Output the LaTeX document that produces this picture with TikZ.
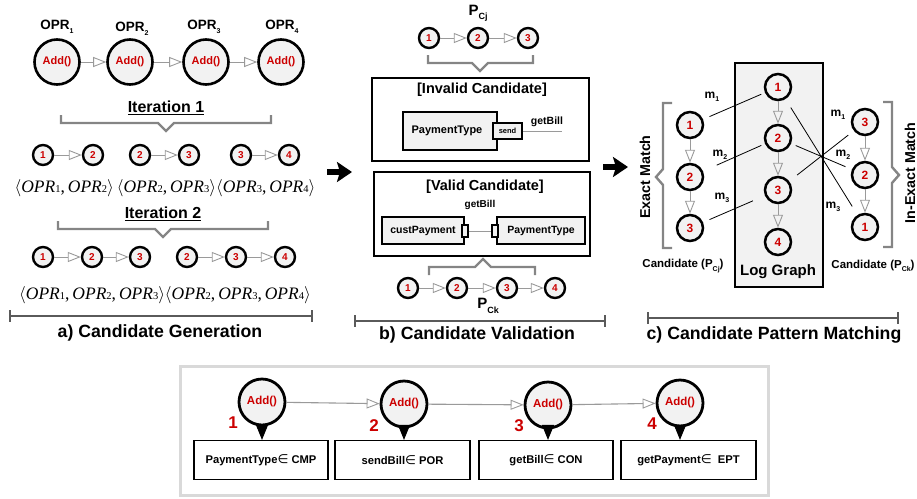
\documentclass[tikz,border=0pt]{standalone}
\usepackage{fontspec}
\setmainfont{Liberation Sans}
\newfontfamily\serifit{Liberation Serif}
\newfontfamily\symfont{DejaVu Sans}
\usetikzlibrary{arrows.meta,calc}

\definecolor{opred}{HTML}{CC0000}
\definecolor{nodefill}{HTML}{F2F2F2}
\definecolor{linkgray}{HTML}{9A9A9A}
\definecolor{bracegray}{HTML}{858585}
\definecolor{rulegray}{HTML}{5A5A5A}
\definecolor{panelgray}{HTML}{D9D9D9}

\newcommand\fs[1]{\fontsize{#1}{#1}\selectfont}
\newcommand\lowsub[1]{\raisebox{-0.55ex}{\fs{7}#1}}
\newcommand\opr[1]{\textit{OPR}{\fs{10.5}#1}}
\newcommand\memberof{{\symfont\mdseries\fs{12.5}∈}}

\tikzset{
  opbig/.style={circle, draw=black, line width=2.6pt, fill=nodefill,
    minimum size=45pt, inner sep=0pt, text=opred, font=\bfseries\fs{11}},
  opsmall/.style={circle, draw=black, line width=2.4pt, fill=nodefill,
    minimum size=20pt, inner sep=0pt, text=opred, font=\bfseries\fs{10}},
  opmid/.style={circle, draw=black, line width=2.5pt, fill=nodefill,
    minimum size=26pt, inner sep=0pt, text=opred, font=\bfseries\fs{12}},
  opbot/.style={circle, draw=black, line width=2.8pt, fill=nodefill,
    minimum size=46pt, inner sep=0pt, text=opred, font=\bfseries\fs{11.5}},
  link/.style={draw=linkgray, line width=0.9pt,
    -{Triangle[open, length=13pt, width=10pt, line width=0.9pt]}},
  downarrow/.style={draw=black, line width=1pt,
    -{Triangle[length=15pt, width=12pt]}},
  bigarrow/.style={draw=black, line width=6pt,
    -{Stealth[length=15pt, width=20pt, inset=3pt]}},
  matchline/.style={draw=black, line width=0.8pt},
  bracket/.style={draw=bracegray, line width=2.4pt},
  ruler/.style={draw=rulegray, line width=1.8pt},
  framebox/.style={draw=black, line width=1.2pt},
  compbox/.style={draw=black, line width=1.3pt, fill=nodefill},
  lbl/.style={font=\bfseries\fs{13.5}, inner sep=0pt},
  caption/.style={font=\bfseries\fs{17.7}, inner sep=0pt},
  tuple/.style={font=\serifit\fs{17.5}, inner sep=0pt},
  predbox/.style={draw=black, line width=1.2pt, minimum height=39pt,
    inner sep=0pt, font=\bfseries\fs{11.2}},
}

\begin{document}
\begin{tikzpicture}[x=1pt, y=-1pt]
\useasboundingbox (0,0) rectangle (917,498);

% ---------------- a) Candidate Generation ----------------
\foreach \i/\x/\y in {1/57/27, 2/132/29, 3/204/27, 4/282/27}
  \node[lbl] (opr\i) at (\x,\y) {OPR\lowsub{\i}};
\foreach \i/\x in {1/57, 2/130, 3/206, 4/281}
  \node[opbig] (o\i) at (\x,62) {Add()};
\draw[link] (o1) -- (o2);
\draw[link] (o2) -- (o3);
\draw[link] (o3) -- (o4);

\node[lbl, font=\bfseries\fs{16}] (it1) at (166,108) {\underline{Iteration 1}};
\draw[bracket] (61,115) -- (61,123) -- (158,123) -- (166,131) -- (174,123)
  -- (271,123) -- (271,115);

\node[opsmall] (p1a) at (43,155) {1};
\node[opsmall] (p1b) at (93,155) {2};
\node[opsmall] (p2a) at (140,155) {2};
\node[opsmall] (p2b) at (189,155) {3};
\node[opsmall] (p3a) at (241,155) {3};
\node[opsmall] (p3b) at (289,155) {4};
\draw[link] (p1a) -- (p1b);
\draw[link] (p2a) -- (p2b);
\draw[link] (p3a) -- (p3b);

\node[tuple] (tup1) at (165,188)
  {$\big\langle$\opr1,\,\opr2$\big\rangle$\,$\big\langle$\opr2,\,\opr3$\big\rangle$$\big\langle$\opr3,\,\opr4$\big\rangle$};

\node[lbl, font=\bfseries\fs{16}] (it2) at (163,214) {\underline{Iteration 2}};
\draw[bracket] (58,221) -- (58,229) -- (155,229) -- (163,237) -- (171,229)
  -- (268,229) -- (268,221);

\node[opsmall] (t1a) at (43,257) {1};
\node[opsmall] (t1b) at (92,257) {2};
\node[opsmall] (t1c) at (140,257) {3};
\node[opsmall] (t2a) at (187,257) {2};
\node[opsmall] (t2b) at (236,257) {3};
\node[opsmall] (t2c) at (285,257) {4};
\draw[link] (t1a) -- (t1b);
\draw[link] (t1b) -- (t1c);
\draw[link] (t2a) -- (t2b);
\draw[link] (t2b) -- (t2c);

\node[tuple] (tup2) at (165,295)
  {$\big\langle$\opr1,\,\opr2,\,\opr3$\big\rangle$$\big\langle$\opr2,\,\opr3,\,\opr4$\big\rangle$};

\draw[ruler] (10,316) -- (312,316);
\draw[ruler] (10,310) -- (10,322);
\draw[ruler] (312,310) -- (312,322);
\node[caption] (capa) at (160,333) {a) Candidate Generation};

% arrow into b)
\coordinate (ga1) at (327,172);
\coordinate (ga2) at (352,172);
\draw[bigarrow] (ga1) -- (ga2);

% ---------------- b) Candidate Validation ----------------
\node[lbl, font=\bfseries\fs{15}] (pcj) at (478,13) {P\lowsub{\fs{9}Cj}};
\node[opsmall] (j1) at (429,38) {1};
\node[opsmall] (j2) at (478,38) {2};
\node[opsmall] (j3) at (528,38) {3};
\draw[link] (j1) -- (j2);
\draw[link] (j2) -- (j3);
\draw[bracket] (428,55) -- (428,63) -- (472,63) -- (480,71) -- (488,63)
  -- (533,63) -- (533,55);

\draw[framebox] (372,78) rectangle (589,161);
\node[lbl, font=\bfseries\fs{14.5}] (inv) at (482,90) {[Invalid Candidate]};
\node[compbox, minimum width=94pt, minimum height=38pt, inner sep=0pt,
  font=\bfseries\fs{11}] (ptype1) at (450,131) {\hspace*{-6pt}PaymentType};
\node[compbox, minimum width=29pt, minimum height=16pt, inner sep=0pt,
  line width=1.6pt, font=\bfseries\fs{7.5}] (send) at (507.5,131) {send};
\coordinate (sendend) at (562,131);
\draw[draw=linkgray, line width=1pt] (send) -- (sendend);
\node[font=\bfseries\fs{10.5}, inner sep=0pt] (gb1) at (547,122) {getBill};

\draw[framebox] (374,172) rectangle (590,256);
\node[lbl, font=\bfseries\fs{14.5}] (val) at (485,187) {[Valid Candidate]};
\node[font=\bfseries\fs{10}, inner sep=0pt] (gb2) at (480,205) {getBill};
\node[compbox, minimum width=82pt, minimum height=27pt, inner sep=0pt,
  font=\bfseries\fs{10.5}] (cust) at (423,230.5) {custPayment};
\node[compbox, minimum width=88pt, minimum height=27pt, inner sep=0pt,
  font=\bfseries\fs{10.5}] (ptype2) at (541,230.5) {PaymentType};
\node[draw=black, line width=1.3pt, fill=nodefill, minimum width=6pt,
  minimum height=12pt, inner sep=0pt] (port1) at (465,231) {};
\node[draw=black, line width=1.3pt, fill=nodefill, minimum width=6pt,
  minimum height=12pt, inner sep=0pt] (port2) at (495,231) {};
\draw[draw=linkgray, line width=1pt] (port1) -- (port2);

\draw[bracket] (429,275) -- (429,267) -- (475,267) -- (483,259) -- (491,267)
  -- (535,267) -- (535,275);
\node[opsmall] (k1) at (408,288) {1};
\node[opsmall] (k2) at (457,288) {2};
\node[opsmall] (k3) at (507,288) {3};
\node[opsmall] (k4) at (555,288) {4};
\draw[link] (k1) -- (k2);
\draw[link] (k2) -- (k3);
\draw[link] (k3) -- (k4);
\node[lbl, font=\bfseries\fs{15}] (pck) at (488,306) {P\lowsub{\fs{9}Ck}};

\draw[ruler] (355,321) -- (605,321);
\draw[ruler] (355,315) -- (355,327);
\draw[ruler] (605,315) -- (605,327);
\node[caption] (capb) at (477,335) {b) Candidate Validation};

% arrow into c)
\coordinate (gb1a) at (603,167);
\coordinate (gb1b) at (628,167);
\draw[bigarrow] (gb1a) -- (gb1b);

% ---------------- c) Candidate Pattern Matching ----------------
\draw[framebox, fill=nodefill] (735,63) rectangle (823,287);
\node[opmid] (g1) at (778,87) {1};
\node[opmid] (g2) at (778,138) {2};
\node[opmid] (g3) at (778,190) {3};
\node[opmid] (g4) at (778,242) {4};
\draw[link] (g1) -- (g2);
\draw[link] (g2) -- (g3);
\draw[link] (g3) -- (g4);
\node[font=\bfseries\fs{15}, inner sep=0pt] (lg) at (778,272) {Log Graph};

\node[opmid] (lc1) at (690,125) {1};
\node[opmid] (lc2) at (690,177) {2};
\node[opmid] (lc3) at (690,228) {3};
\draw[link] (lc1) -- (lc2);
\draw[link] (lc2) -- (lc3);

\node[opmid] (rc3) at (865,122) {3};
\node[opmid] (rc2) at (865,175) {2};
\node[opmid] (rc1) at (865,227) {1};
\draw[link] (rc3) -- (rc2);
\draw[link] (rc2) -- (rc1);

\draw[bracket] (672,103) -- (663,103) -- (663,169) -- (656,177) -- (663,185)
  -- (663,248) -- (672,248);
\draw[bracket] (883,102) -- (892,102) -- (892,167) -- (899,175) -- (892,183)
  -- (892,247) -- (883,247);
\node[lbl, rotate=90, font=\bfseries\fs{14.3}] (exact) at (645,177) {Exact Match};
\node[lbl, rotate=90, font=\bfseries\fs{14.3}] (inexact) at (910,173) {In-Exact Match};

\node[font=\bfseries\fs{11.5}, inner sep=0pt] (candj) at (683,266) {Candidate (P\lowsub{Cj})};
\node[font=\bfseries\fs{11.5}, inner sep=0pt] (candk) at (873,266) {Candidate (P\lowsub{Ck})};

\draw[matchline, shorten <=7pt, shorten >=4pt] (lc1) -- (g1);
\draw[matchline, shorten <=15pt, shorten >=4pt] (lc2) -- (g2);
\draw[matchline, shorten <=7pt, shorten >=13pt] (lc3) -- (g3);
\draw[matchline, shorten <=10pt, shorten >=10pt] (g1) -- (rc1);
\draw[matchline, shorten <=5pt, shorten >=7pt] (g2) -- (rc2);
\draw[matchline, shorten <=10pt, shorten >=7pt] (g3) -- (rc3);

\node[lbl, font=\bfseries\fs{12}] (ml1) at (712,97) {m\lowsub{1}};
\node[lbl, font=\bfseries\fs{12}] (ml2) at (720,155) {m\lowsub{2}};
\node[lbl, font=\bfseries\fs{12}] (ml3) at (722,198) {m\lowsub{3}};
\node[lbl, font=\bfseries\fs{12}] (mr1) at (838,115) {m\lowsub{1}};
\node[lbl, font=\bfseries\fs{12}] (mr2) at (843,155) {m\lowsub{2}};
\node[lbl, font=\bfseries\fs{12}] (mr3) at (833,207) {m\lowsub{3}};

\draw[ruler] (648,318) -- (898,318);
\draw[ruler] (648,312) -- (648,324);
\draw[ruler] (898,312) -- (898,324);
\node[caption] (capc) at (774,335) {c) Candidate Pattern Matching};

% ---------------- operation chain with categories ----------------
\draw[draw=panelgray, line width=3pt] (180,366) rectangle (768,495);
\node[opbot] (b1) at (262,402) {Add()};
\node[opbot] (b2) at (404,404) {Add()};
\node[opbot] (b3) at (548,405) {Add()};
\node[opbot] (b4) at (680,403) {Add()};
\draw[link, line width=1.1pt] (b1) -- (b2);
\draw[link, line width=1.1pt] (b2) -- (b3);
\draw[link, line width=1.1pt] (b3) -- (b4);
\foreach \i/\x/\y in {1/233/423, 2/374/426, 3/519/426, 4/652/424}
  \node[font=\bfseries\fs{17}, text=opred, inner sep=0pt] (n\i) at (\x,\y) {\i};

\node[predbox, minimum width=134pt] (c1) at (261,460) {PaymentType\memberof\ CMP};
\node[predbox, minimum width=135pt] (c2) at (402.5,460) {sendBill\memberof\ POR};
\node[predbox, minimum width=134pt] (c3) at (546,460) {getBill\memberof\ CON};
\node[predbox, minimum width=135pt] (c4) at (688.5,460) {getPayment\memberof\ \ EPT};
\draw[downarrow] (b1.south) -- (b1.south |- c1.north);
\draw[downarrow] (b2.south) -- (b2.south |- c2.north);
\draw[downarrow] (b3.south) -- (b3.south |- c3.north);
\draw[downarrow] (b4.south) -- (b4.south |- c4.north);
\end{tikzpicture}
\end{document}
